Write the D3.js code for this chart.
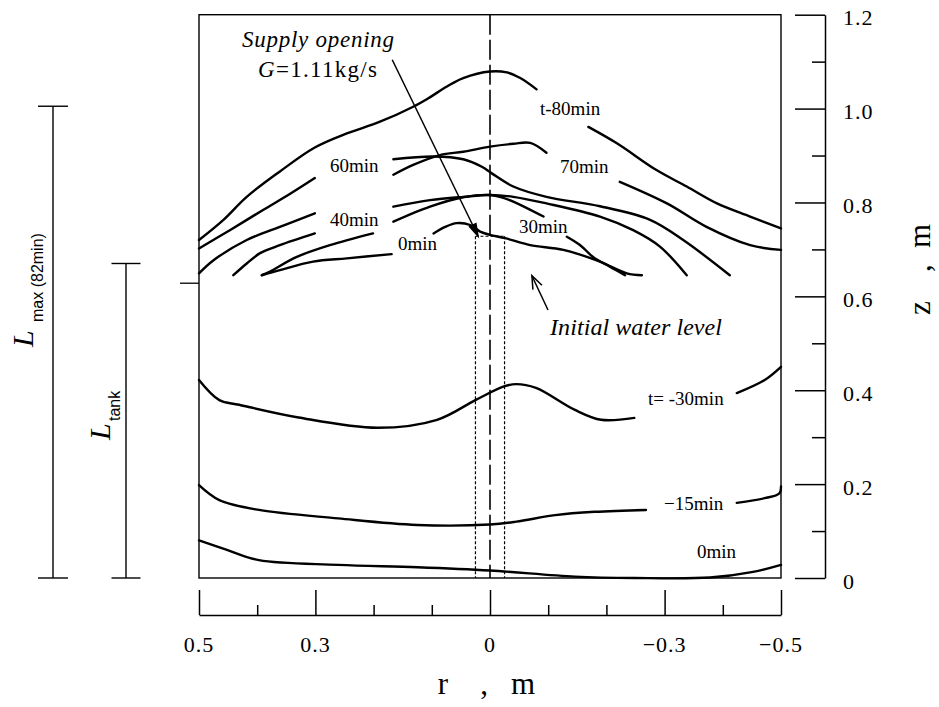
<!DOCTYPE html>
<html>
<head>
<meta charset="utf-8">
<script src="https://cdn.jsdelivr.net/npm/d3@7"></script>
<style>
  html, body { margin: 0; padding: 0; background: #fff; }
  svg text { font-family: "Liberation Serif", "Times New Roman", serif; fill: #000; }
</style>
</head>
<body>
<svg id="chart" width="939" height="707"></svg>
<script>
// Axis ticks: radius r (m) runs from +0.5 on the left to -0.5 on the right
const rTickValues = [0.5, 0.4, 0.3, 0.2, 0.1, 0, -0.1, -0.2, -0.3, -0.4, -0.5];
const rTickLabels = [0.5, 0.3, 0, -0.3, -0.5];
const zTickValues = [0, 0.1, 0.2, 0.3, 0.4, 0.5, 0.6, 0.7, 0.8, 0.9, 1.0, 1.1, 1.2];
const zTickLabels = [0, 0.2, 0.4, 0.6, 0.8, 1.0, 1.2];

// Free-surface profiles [r, z] (m); each profile is a list of drawn pieces
const surface80 = [
  [[0.5,0.720],[0.458,0.763],[0.418,0.812],[0.361,0.866],[0.301,0.917],[0.246,0.947],[0.189,0.972],
   [0.132,1.004],[0.106,1.022],[0.074,1.047],[0.046,1.065],[0,1.079],[-0.029,1.077],[-0.052,1.065],[-0.080,1.041]],
  [[-0.169,0.961],[-0.218,0.926],[-0.286,0.869],[-0.338,0.834],[-0.390,0.798],[-0.447,0.770],[-0.5,0.745]]
];
const surface70 = [
  [[0.5,0.702],[0.447,0.741],[0.390,0.784],[0.344,0.818],[0.301,0.852]],
  [[0.166,0.859],[0.132,0.880],[0.086,0.901],[0.046,0.908],[0,0.919],[-0.040,0.925],[-0.069,0.927],[-0.097,0.906]],
  [[-0.223,0.844],[-0.304,0.798],[-0.372,0.748],[-0.447,0.709],[-0.5,0.699]]
];
const surface60 = [
  [[0.5,0.649],[0.475,0.677],[0.418,0.720],[0.361,0.748],[0.301,0.777]],
  [[0.166,0.892],[0.097,0.898],[0.046,0.892],[0.014,0.876],[-0.003,0.862],[-0.040,0.834],[-0.097,0.812],
   [-0.189,0.792],[-0.275,0.763],[-0.332,0.720],[-0.412,0.645]]
];
const surface40 = [
  [[0.441,0.645],[0.418,0.670],[0.395,0.692],[0.361,0.709],[0.301,0.734]],
  [[0.166,0.791],[0.103,0.805],[0.046,0.812],[0,0.816],[-0.040,0.812],[-0.097,0.798],[-0.189,0.770],
   [-0.246,0.741],[-0.292,0.706],[-0.338,0.645]]
];
const surface30 = [
  [[0.392,0.645],[0.378,0.653],[0.332,0.684],[0.275,0.709],[0.201,0.734]],
  [[0.166,0.759],[0.103,0.791],[0.046,0.811],[0,0.816],[-0.017,0.812],[-0.040,0.802],[-0.092,0.770]],
  [[-0.132,0.727],[-0.155,0.709],[-0.177,0.684],[-0.206,0.663],[-0.232,0.645]]
];
const surface0 = [
  [[0.392,0.645],[0.361,0.656],[0.304,0.674],[0.246,0.681],[0.169,0.690]],
  [[0.097,0.734],[0.077,0.748],[0.057,0.756],[0.034,0.752],[0.017,0.738],[0,0.731],[-0.026,0.724],
   [-0.069,0.709],[-0.126,0.699],[-0.189,0.674],[-0.235,0.649],[-0.261,0.645]]
];
const surfaceMinus30 = [
  [[0.5,0.422],[0.465,0.379],[0.431,0.369],[0.329,0.342],[0.193,0.320],[0.091,0.337],[0.025,0.379],
   [-0.024,0.408],[-0.045,0.413],[-0.079,0.405],[-0.146,0.358],[-0.191,0.337],[-0.248,0.341]],
  [[-0.424,0.394],[-0.472,0.422],[-0.5,0.450]]
];
const surfaceMinus15 = [
  [[0.5,0.198],[0.465,0.166],[0.397,0.145],[0.261,0.127],[0.125,0.113],[0,0.114],[-0.045,0.120],
   [-0.112,0.134],[-0.180,0.141],[-0.268,0.145]],
  [[-0.424,0.160],[-0.472,0.170],[-0.497,0.180],[-0.5,0.195]]
];
const surfaceStart = [
  [[0.5,0.080],[0.452,0.060],[0.397,0.038],[0.261,0.028],[0.125,0.023],[0,0.016],[-0.146,0.003],
   [-0.248,0.0],[-0.378,0.001],[-0.452,0.013],[-0.5,0.028]]
];

const profiles = [surface80, surface70, surface60, surface40, surface30, surface0,
                  surfaceMinus30, surfaceMinus15, surfaceStart];
const profileLabels = ["t-80min", "70min", "60min", "40min", "30min", "0min",
                       "t= -30min", "\u221215min", "0min"];

// Supply opening, levels and lengths (m)
const supplyHalfWidth = 0.025;
const supplyTop = 0.728;
const initialLevelMark = 0.628;
const lMaxHeight = 1.005;
const lTankHeight = 0.67;

const svg = d3.select("#chart");
const x = d3.scaleLinear().domain([0.5, -0.5]).range([199, 781]);
const y = d3.scaleLinear().domain([0, 1.2]).range([578, 14.7]);

const numFmt = d => d === 0 ? "0" : (d < 0 ? "\u2212" : "") + Math.abs(d).toFixed(1);

// plot frame
svg.append("rect")
  .attr("x", x(0.5)).attr("y", y(1.2))
  .attr("width", x(-0.5) - x(0.5)).attr("height", y(0) - y(1.2))
  .attr("fill", "none").attr("stroke", "#000").attr("stroke-width", 1.4);

// bottom r axis, detached below the frame
const axisY = 615;
const majorR = rTickValues.filter(v => rTickLabels.includes(v));
const minorR = rTickValues.filter(v => !rTickLabels.includes(v));
const gx = svg.append("g").attr("transform", `translate(0,${axisY})`);
gx.call(d3.axisTop(x).tickValues(majorR).tickSize(25).tickSizeOuter(0).tickFormat(""));
gx.append("g").call(d3.axisTop(x).tickValues(minorR).tickSize(10).tickSizeOuter(0).tickFormat(""))
  .select(".domain").remove();
gx.selectAll("path, line").attr("stroke", "#000").attr("stroke-width", 1.5);
svg.append("g").selectAll("text").data(rTickLabels).join("text")
  .attr("x", d => x(d)).attr("y", 652)
  .attr("text-anchor", "middle").attr("font-size", 22).attr("letter-spacing", 1)
  .text(numFmt);

// right z axis
const axisX = 825;
const majorZ = zTickValues.filter(v => zTickLabels.some(l => Math.abs(l - v) < 1e-9));
const minorZ = zTickValues.filter(v => !zTickLabels.some(l => Math.abs(l - v) < 1e-9));
const gy = svg.append("g").attr("transform", `translate(${axisX},0)`);
gy.call(d3.axisLeft(y).tickValues(majorZ).tickSize(30).tickSizeOuter(0).tickFormat(""));
gy.append("g").call(d3.axisLeft(y).tickValues(minorZ).tickSize(13).tickSizeOuter(0).tickFormat(""))
  .select(".domain").remove();
gy.selectAll("path, line").attr("stroke", "#000").attr("stroke-width", 1.5);
svg.append("g").selectAll("text").data(zTickLabels).join("text")
  .attr("x", 843).attr("y", d => y(d) + 10.5)
  .attr("font-size", 22).attr("letter-spacing", 1)
  .text(numFmt);

// axis titles
const rTitle = svg.append("text").attr("y", 694).attr("font-size", 31);
rTitle.append("tspan").attr("x", 443).attr("text-anchor", "middle").text("r");
rTitle.append("tspan").attr("x", 484).attr("text-anchor", "middle").text(",");
rTitle.append("tspan").attr("x", 523).attr("text-anchor", "middle").text("m");

const zTitle = svg.append("text").attr("font-size", 31)
  .attr("transform", "translate(930,0) rotate(-90)");
zTitle.append("tspan").attr("x", -308).attr("text-anchor", "middle").text("z");
zTitle.append("tspan").attr("x", -268).attr("text-anchor", "middle").text(",");
zTitle.append("tspan").attr("x", -236).attr("text-anchor", "middle").text("m");

// centre line of the tank
svg.append("line")
  .attr("x1", x(0)).attr("x2", x(0)).attr("y1", y(1.2)).attr("y2", y(0))
  .attr("stroke", "#000").attr("stroke-width", 1.6).attr("stroke-dasharray", "20,5");

// supply opening outline (dotted)
const dotted = { stroke: "#000", "stroke-width": 1.2, "stroke-dasharray": "3,2" };
[supplyHalfWidth, -supplyHalfWidth].forEach(r => {
  const l = svg.append("line").attr("x1", x(r)).attr("x2", x(r)).attr("y1", y(supplyTop)).attr("y2", y(0));
  Object.entries(dotted).forEach(([k, v]) => l.attr(k, v));
});
{
  const l = svg.append("line").attr("x1", x(supplyHalfWidth)).attr("x2", x(-supplyHalfWidth))
    .attr("y1", y(supplyTop)).attr("y2", y(supplyTop));
  Object.entries(dotted).forEach(([k, v]) => l.attr(k, v));
}

// free-surface profiles
const line = d3.line().x(d => x(d[0])).y(d => y(d[1])).curve(d3.curveCatmullRom.alpha(0.5));
const gProf = svg.append("g").attr("fill", "none").attr("stroke", "#000")
  .attr("stroke-width", 2.4).attr("stroke-linecap", "round").attr("stroke-linejoin", "round");
profiles.forEach(p => p.forEach(piece => gProf.append("path").attr("d", line(piece))));

// profile labels
const labelPos = [[540,115],[560,172.5],[330,171.5],[330,226],[519,233],[398,250],[648,405],[664,510],[697,558]];
svg.append("g").selectAll("text").data(profileLabels).join("text")
  .attr("x", (d, i) => labelPos[i][0]).attr("y", (d, i) => labelPos[i][1])
  .attr("font-size", 19).text(d => d);

// annotation arrows
function arrow(x1, y1, x2, y2, filled) {
  svg.append("line").attr("x1", x1).attr("y1", y1).attr("x2", x2).attr("y2", y2)
    .attr("stroke", "#000").attr("stroke-width", 1.5);
  const a = Math.atan2(y2 - y1, x2 - x1), L = filled ? 12 : 13, w = filled ? 3.5 : 5;
  const bx = x2 - L * Math.cos(a), by = y2 - L * Math.sin(a);
  const px = -Math.sin(a) * w, py = Math.cos(a) * w;
  const pts = [[bx + px, by + py], [x2, y2], [bx - px, by - py]];
  svg.append("path").attr("d", "M" + pts.map(p => p.join(",")).join("L") + (filled ? "Z" : ""))
    .attr("fill", filled ? "#000" : "none").attr("stroke", "#000").attr("stroke-width", 1.5);
}
arrow(x(0.168), y(1.104), x(0.0206), y(0.7286), true);
arrow(x(-0.0997), y(0.571), x(-0.072), y(0.644), false);

svg.append("text").attr("x", 242).attr("y", 47).attr("font-size", 23)
  .attr("font-style", "italic").attr("textLength", 152).text("Supply opening");
const gText = svg.append("text").attr("x", 258).attr("y", 77).attr("font-size", 23).attr("textLength", 119);
gText.append("tspan").attr("font-style", "italic").text("G");
gText.append("tspan").text("=1.11kg/s");

svg.append("text").attr("x", 550).attr("y", 335).attr("font-size", 24)
  .attr("font-style", "italic").attr("textLength", 172).text("Initial water level");

// initial level mark on the left wall
svg.append("line").attr("x1", 180).attr("x2", x(0.5))
  .attr("y1", y(initialLevelMark)).attr("y2", y(initialLevelMark))
  .attr("stroke", "#000").attr("stroke-width", 1.3);

// height bars L_max and L_tank
function heightBar(cx, top, halfCap) {
  const g = svg.append("g").attr("stroke", "#000").attr("stroke-width", 1.4);
  g.append("line").attr("x1", cx).attr("x2", cx).attr("y1", y(top)).attr("y2", y(0));
  g.append("line").attr("x1", cx - halfCap).attr("x2", cx + halfCap).attr("y1", y(top)).attr("y2", y(top));
  g.append("line").attr("x1", cx - halfCap).attr("x2", cx + halfCap).attr("y1", y(0)).attr("y2", y(0));
}
heightBar(53, lMaxHeight, 15);
heightBar(126, lTankHeight, 14.5);

const lMax = svg.append("text").attr("transform", "translate(33,347) rotate(-90)");
lMax.append("tspan").attr("font-size", 30).attr("font-style", "italic").text("L");
lMax.append("tspan").attr("x", 25).attr("dy", 10).attr("font-size", 16)
  .attr("font-family", "Liberation Sans, Arial, sans-serif").text("max (82min)");

const lTank = svg.append("text").attr("transform", "translate(110,440) rotate(-90)");
lTank.append("tspan").attr("font-size", 30).attr("font-style", "italic").text("L");
lTank.append("tspan").attr("x", 19).attr("dy", 10).attr("font-size", 16)
  .attr("font-family", "Liberation Sans, Arial, sans-serif").text("tank");
</script>
</body>
</html>
